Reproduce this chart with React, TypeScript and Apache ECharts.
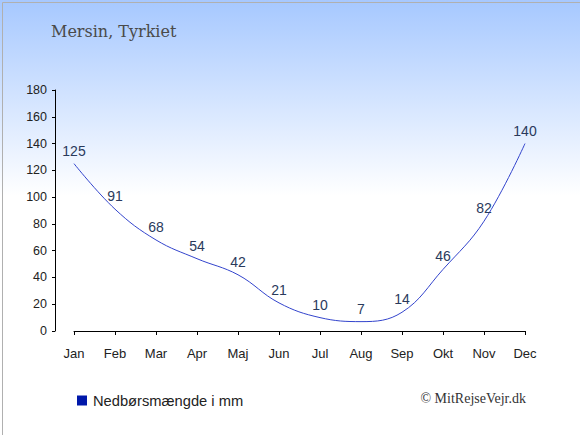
import React, { useEffect, useRef } from "react";
import * as echarts from "echarts";

const months = ["Jan", "Feb", "Mar", "Apr", "Maj", "Jun", "Jul", "Aug", "Sep", "Okt", "Nov", "Dec"];
const precipitation = [125, 91, 68, 54, 42, 21, 10, 7, 14, 46, 82, 140];
const yTicks = { min: 0, max: 180, interval: 20 };
const titleText = "Mersin, Tyrkiet";
const seriesName = "Nedbørsmængde i mm";
const creditText = "© MitRejseVejr.dk";

export default function App() {
  const ref = useRef<HTMLDivElement>(null);
  useEffect(() => {
    document.body.style.margin = "0";
    const chart = echarts.init(ref.current!, null, { renderer: "svg" });
    chart.setOption({
      animation: false,
      backgroundColor: new echarts.graphic.LinearGradient(0, 0, 0, 1, [
        { offset: 0, color: "#a6c8ff" },
        { offset: 0.45, color: "#ffffff" },
        { offset: 1, color: "#ffffff" },
      ]),
      title: {
        text: titleText,
        left: 51,
        top: 23,
        padding: 0,
        textStyle: { fontFamily: "DejaVu Serif", fontSize: 16, fontWeight: "normal", color: "#4a4a4a" },
      },
      legend: {
        left: 77,
        top: 393,
        padding: 0,
        icon: "rect",
        itemWidth: 10,
        itemHeight: 10,
        itemGap: 6,
        data: [{ name: seriesName, itemStyle: { color: "#0018aa" } }],
        textStyle: { fontFamily: "Liberation Sans", fontSize: 14.7, color: "#222222", padding: [0, 0, 0, 1] },
      },
      grid: { left: 74, right: 55, top: 90, bottom: 104 },
      xAxis: {
        type: "category",
        data: months,
        boundaryGap: false,
        offset: 10,
        axisLine: { lineStyle: { color: "#000000", width: 1 } },
        axisTick: { alignWithLabel: true, length: 4, lineStyle: { color: "#000000" } },
        axisLabel: { fontFamily: "Liberation Sans", fontSize: 13, color: "#222222", margin: 6 },
        splitLine: { show: false },
      },
      yAxis: {
        type: "value",
        min: yTicks.min,
        max: yTicks.max,
        interval: yTicks.interval,
        offset: 19,
        axisLine: { show: true, lineStyle: { color: "#000000", width: 1 } },
        axisTick: { show: true, length: 3, lineStyle: { color: "#000000" } },
        axisLabel: { fontFamily: "Liberation Sans", fontSize: 12.5, color: "#222222", margin: 8 },
        splitLine: { show: false },
      },
      series: [
        {
          name: seriesName,
          type: "line",
          data: precipitation,
          smooth: 0.4,
          symbol: "circle",
          symbolSize: 0,
          itemStyle: { color: "#0018aa" },
          lineStyle: { color: "#3344cc", width: 1 },
          label: {
            show: true,
            position: "top",
            distance: 6,
            fontFamily: "Liberation Sans",
            fontSize: 14,
            color: "#2a3a5c",
          },
        },
      ],
      graphic: [
        {
          type: "text",
          right: 54,
          top: 391,
          style: { text: creditText, fontFamily: "Liberation Serif", fontSize: 14, fill: "#333333" },
        },
        {
          type: "rect",
          left: 0,
          top: 0,
          shape: { x: 0.5, y: 0.5, width: 579, height: 434 },
          style: { fill: "none", stroke: "#b0b0b0", lineWidth: 1 },
          silent: true,
        },
      ],
    });
    return () => chart.dispose();
  }, []);
  return <div ref={ref} style={{ width: 580, height: 435 }} />;
}
